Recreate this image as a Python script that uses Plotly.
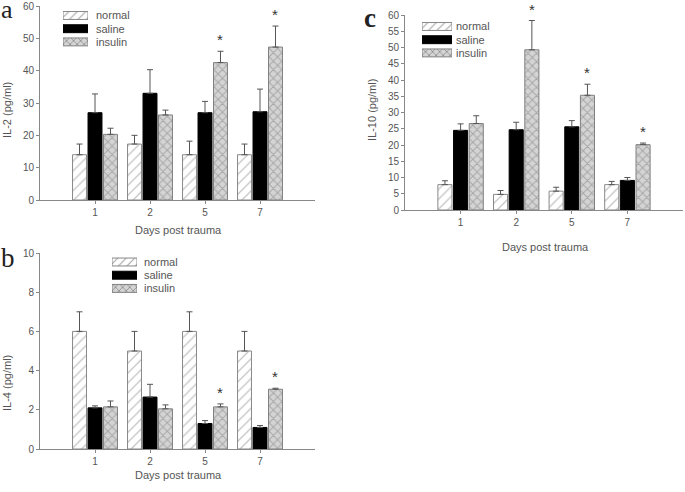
import plotly.graph_objects as go

days = ["1", "2", "5", "7"]
groups = ["normal", "saline", "insulin"]

# Panel a: IL-2 (pg/ml)
il2_normal = [14.0, 17.3, 14.0, 14.0]
il2_normal_top = [17.3, 20.0, 18.2, 17.3]
il2_saline = [27.0, 33.0, 27.0, 27.3]
il2_saline_top = [32.8, 40.3, 30.5, 34.3]
il2_insulin = [20.3, 26.3, 42.5, 47.3]
il2_insulin_top = [22.2, 27.8, 46.0, 53.8]
il2_star = [False, False, True, True]

# Panel b: IL-4 (pg/ml)
il4_normal = [6.0, 5.0, 6.0, 5.0]
il4_normal_top = [7.0, 6.0, 7.0, 6.0]
il4_saline = [2.1, 2.65, 1.3, 1.1]
il4_saline_top = [2.2, 3.3, 1.45, 1.2]
il4_insulin = [2.15, 2.05, 2.15, 3.05]
il4_insulin_top = [2.45, 2.25, 2.3, 3.1]
il4_star = [False, False, True, True]

# Panel c: IL-10 (pg/ml)
il10_normal = [7.8, 4.8, 5.8, 7.8]
il10_normal_top = [9.0, 6.0, 7.0, 8.8]
il10_saline = [24.5, 24.7, 25.6, 9.1]
il10_saline_top = [26.5, 27.0, 27.5, 10.0]
il10_insulin = [26.6, 49.3, 35.3, 20.1]
il10_insulin_top = [29.0, 58.3, 38.7, 20.6]
il10_star = [False, True, True, True]

W, H = 685, 492
FONT = "Liberation Sans, Arial, sans-serif"
SERIF = "Liberation Serif, serif"
TXT = "#555555"
AX = "#888888"
BARGAP = 0.155
SLOT = (1 - BARGAP) / 3

styles = {
    "normal": dict(color="white", line=dict(color="#888888", width=1),
                   pattern=dict(shape="/", fgcolor="#8a8a8a", bgcolor="white", size=7, solidity=0.18)),
    "saline": dict(color="black", line=dict(color="black", width=1)),
    "insulin": dict(color="#cfcfcf", line=dict(color="#808080", width=1),
                    pattern=dict(shape="x", fgcolor="#7a7a7a", bgcolor="#d4d4d4", size=6, solidity=0.3)),
}

panels = [
    dict(x="x", y="y",
         data=[(il2_normal, il2_normal_top), (il2_saline, il2_saline_top), (il2_insulin, il2_insulin_top)],
         star=il2_star),
    dict(x="x2", y="y2",
         data=[(il4_normal, il4_normal_top), (il4_saline, il4_saline_top), (il4_insulin, il4_insulin_top)],
         star=il4_star),
    dict(x="x3", y="y3",
         data=[(il10_normal, il10_normal_top), (il10_saline, il10_saline_top), (il10_insulin, il10_insulin_top)],
         star=il10_star),
]

xpos = [1, 2, 3, 4]
fig = go.Figure()
annotations = []
for p in panels:
    for g, (vals, tops) in zip(groups, p["data"]):
        fig.add_trace(go.Bar(
            x=xpos, y=vals, name=g, xaxis=p["x"], yaxis=p["y"], showlegend=False,
            marker=styles[g],
            error_y=dict(type="data", symmetric=False,
                         array=[t - v for v, t in zip(vals, tops)],
                         arrayminus=[0] * len(vals),
                         color="#555555", thickness=1, width=3),
        ))
    ins_vals, ins_tops = p["data"][2]
    for i, s in enumerate(p["star"]):
        if s:
            annotations.append(dict(
                x=xpos[i] + SLOT, y=ins_tops[i], xref=p["x"], yref=p["y"],
                text="*", showarrow=False, yanchor="bottom", yshift=1,
                font=dict(size=15, color="#333333", family=FONT)))

# Legend keys drawn as small horizontal bars on hidden mini-axes
legend_boxes = [
    # (x-left px, x-right px, first row center px, text x px)
    (63, 88, 15.5, 94),
    (112, 137, 262, 142),
    (422, 452, 26.5, 454),
]
ROW = 13.2
legend_layout = {}
for k, (xl, xr, yc, tx) in enumerate(legend_boxes):
    n = 4 + k
    top = yc - ROW / 2
    bot = yc + ROW * 2.5
    fig.add_trace(go.Bar(
        x=[1, 1, 1], y=[0, 1, 2], orientation="h", width=0.6, showlegend=False,
        xaxis=f"x{n}", yaxis=f"y{n}", hoverinfo="skip",
        marker=dict(
            color=["white", "black", "#d4d4d4"],
            line=dict(color=["#888888", "black", "#808080"], width=1),
            pattern=dict(shape=["/", "", "x"], fgcolor=["#8a8a8a", "black", "#7a7a7a"],
                         bgcolor=["white", "black", "#d4d4d4"], size=[6, 6, 5],
                         solidity=[0.18, 0.3, 0.3]),
        ),
    ))
    legend_layout[f"xaxis{n}"] = dict(domain=[xl / W, xr / W], anchor=f"y{n}", range=[0, 1],
                                      visible=False, fixedrange=True)
    legend_layout[f"yaxis{n}"] = dict(domain=[1 - bot / H, 1 - top / H], anchor=f"x{n}",
                                      range=[2.5, -0.5], visible=False, fixedrange=True)
    for r, g in enumerate(groups):
        annotations.append(dict(
            x=tx / W, y=1 - (yc + r * ROW) / H, xref="paper", yref="paper", text=g,
            showarrow=False, xanchor="left", yanchor="middle",
            font=dict(size=11, color=TXT, family=FONT)))

# Axis titles (placed as paper annotations): (text, x px, y px, angle)
axis_titles = [
    ("Days post trauma", 178, 230, 0),
    ("IL-2 (pg/ml)", 7, 110, -90),
    ("Days post trauma", 178, 475, 0),
    ("IL-4 (pg/ml)", 7, 383, -90),
    ("Days post trauma", 545, 247, 0),
    ("IL-10 (pg/ml)", 372, 110, -90),
]
for text, px, py, ang in axis_titles:
    annotations.append(dict(
        x=px / W, y=1 - py / H, xref="paper", yref="paper", text=text, showarrow=False,
        xanchor="center", yanchor="middle", textangle=ang,
        font=dict(size=11, color=TXT, family=FONT)))

# Panel letters
annotations += [
    dict(x=7 / W, y=1 - 9 / H, xref="paper", yref="paper", text="a", showarrow=False,
         xanchor="center", yanchor="middle", height=18, valign="middle",
         font=dict(size=26, color="#222222", family=SERIF)),
    dict(x=8 / W, y=1 - 258 / H, xref="paper", yref="paper", text="b", showarrow=False,
         xanchor="center", yanchor="middle", font=dict(size=27, color="#222222", family=SERIF)),
    dict(x=370 / W, y=1 - 18 / H, xref="paper", yref="paper", text="<b>c</b>", showarrow=False,
         xanchor="center", yanchor="middle", font=dict(size=27, color="#222222", family=SERIF)),
]


def xaxis(domain, anchor):
    return dict(domain=domain, anchor=anchor, range=[0, 5], tickvals=xpos, ticktext=days,
                showline=True, linecolor=AX, linewidth=1, ticks="outside", ticklen=3,
                tickcolor=AX, showgrid=False, zeroline=False, automargin=False,
                tickfont=dict(size=10, color=TXT, family=FONT))


def yaxis(domain, anchor, rng, dtick):
    return dict(domain=domain, anchor=anchor, range=rng, dtick=dtick,
                showline=True, linecolor=AX, linewidth=1, ticks="outside", ticklen=3,
                tickcolor=AX, showgrid=False, zeroline=False, automargin=False,
                tickfont=dict(size=10, color=TXT, family=FONT))


fig.update_layout(
    width=W, height=H, margin=dict(l=0, r=0, t=0, b=0),
    paper_bgcolor="white", plot_bgcolor="white",
    barmode="group", bargap=BARGAP, bargroupgap=0.1,
    font=dict(family=FONT, color=TXT),
    showlegend=False,
    xaxis=xaxis([40 / W, 315 / W], "y"),
    yaxis=yaxis([1 - 200 / H, 1 - 6 / H], "x", [0, 60], 10),
    xaxis2=xaxis([40 / W, 315 / W], "y2"),
    yaxis2=yaxis([1 - 449 / H, 1 - 253 / H], "x2", [0, 10], 2),
    xaxis3=xaxis([405 / W, 683 / W], "y3"),
    yaxis3=yaxis([1 - 210 / H, 1 - 15 / H], "x3", [0, 60], 5),
    **legend_layout,
    annotations=annotations,
)

fig.write_html("out.html", config={"displayModeBar": False},
               post_script="document.body.style.margin='0';")
